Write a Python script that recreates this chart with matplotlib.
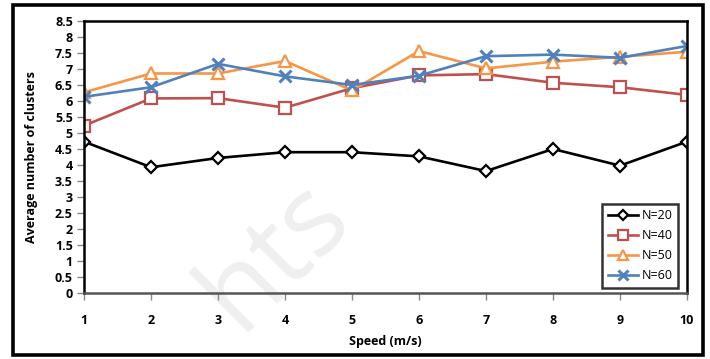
import matplotlib.pyplot as plt
from matplotlib.patches import Rectangle

# dados
speed = [1, 2, 3, 4, 5, 6, 7, 8, 9, 10]
n20 = [4.73, 3.93, 4.22, 4.40, 4.40, 4.27, 3.81, 4.50, 3.98, 4.73]
n40 = [5.23, 6.08, 6.09, 5.79, 6.40, 6.80, 6.84, 6.57, 6.43, 6.19]
n50 = [6.27, 6.86, 6.86, 7.25, 6.33, 7.56, 7.02, 7.23, 7.38, 7.54]
n60 = [6.13, 6.43, 7.16, 6.77, 6.50, 6.79, 7.40, 7.45, 7.35, 7.72]
series_labels = ["N=20", "N=40", "N=50", "N=60"]
y_ticks = [0, 0.5, 1, 1.5, 2, 2.5, 3, 3.5, 4, 4.5, 5, 5.5, 6, 6.5, 7, 7.5, 8, 8.5]

plt.rcParams['font.family'] = ['Open Sans', 'DejaVu Sans']

W, H = 710, 359
fig = plt.figure(figsize=(W / 100, H / 100), dpi=100)

# moldura externa
fig.patches.append(Rectangle((13 / W, 1 - 355 / H), 690 / W, 350 / H,
                             transform=fig.transFigure, fill=False,
                             edgecolor='black', linewidth=2.6))

ax = fig.add_axes([84 / W, 1 - 293 / H, 603 / W, 272 / H])

# marca d'água, atrás de tudo
fig.text(275 / W, 1 - 255 / H, "hts", rotation=45, fontsize=80,
         color='#efefef', ha='center', va='center', zorder=-1)
ax.set_facecolor('none')

estilos = [
    dict(color='black', marker='D', ms=6.5),
    dict(color='#C0504D', marker='s', ms=8.5),
    dict(color='#F79646', marker='^', ms=9),
    dict(color='#4F81BD', marker='x', ms=9, mew=2.2),
]
for vals, lab, st in zip([n20, n40, n50, n60], series_labels, estilos):
    mew = st.pop('mew', 1.6)
    ax.plot(speed, vals, label=lab, linewidth=1.9, markerfacecolor='white',
            markeredgewidth=mew, **st)

ax.set_xlim(1, 10)
ax.set_ylim(0, 8.5)
ax.set_xticks(speed)
ax.set_yticks(y_ticks)
ax.set_yticklabels([f"{t:g}" for t in y_ticks])

for s in ax.spines.values():
    s.set_linewidth(1.8)
    s.set_color('black')
ax.spines['bottom'].set_color('#555555')

ax.tick_params(axis='both', direction='out', color='#888888', length=5,
               width=1, labelsize=9)
ax.tick_params(axis='x', pad=10)
ax.tick_params(axis='y', pad=3)
for lbl in ax.get_xticklabels() + ax.get_yticklabels():
    lbl.set_fontweight('bold')

ax.set_xlabel("Speed (m/s)", fontsize=9, fontweight='bold', labelpad=6)
ax.set_ylabel("Average number of clusters", fontsize=9, fontweight='bold',
              labelpad=12)

leg = ax.legend(loc='lower right', bbox_to_anchor=(0.985, 0.02),
                fontsize=9, frameon=True, fancybox=False, handlelength=2.4,
                handletextpad=0.3, borderpad=0.45, labelspacing=0.55,
                borderaxespad=0, markerscale=0.8)
leg.get_frame().set_edgecolor('black')
leg.get_frame().set_linewidth(1.8)

fig.savefig("out.png", dpi=100)
